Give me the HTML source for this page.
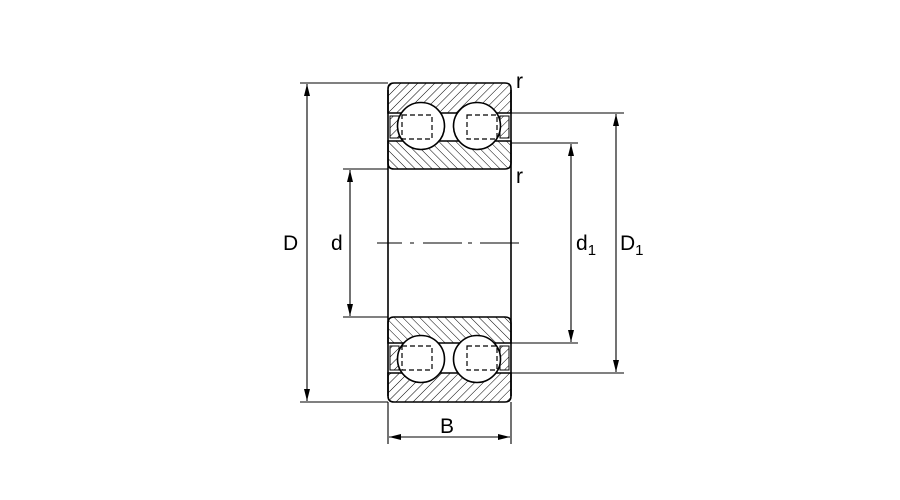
<!DOCTYPE html>
<html><head><meta charset="utf-8"><style>html,body{margin:0;padding:0;background:#fff}svg{display:block}</style></head>
<body>
<svg width="900" height="500" viewBox="0 0 900 500" xmlns="http://www.w3.org/2000/svg" font-family="Liberation Sans, sans-serif">
<defs>
<pattern id="h1" width="6" height="6" patternUnits="userSpaceOnUse" patternTransform="rotate(45)"><line x1="0" y1="0" x2="0" y2="6" stroke="#000" stroke-width="1"/></pattern>
<pattern id="h2" width="6" height="6" patternUnits="userSpaceOnUse" patternTransform="rotate(-45)"><line x1="0" y1="0" x2="0" y2="6" stroke="#000" stroke-width="1"/></pattern>
<marker id="a" viewBox="0 0 12 10" refX="12" refY="5" markerWidth="12" markerHeight="10" orient="auto-start-reverse" markerUnits="userSpaceOnUse"><path d="M0,2 L12,5 L0,8 z" fill="#000"/></marker>
</defs>
<g stroke="#000" fill="none" stroke-width="1.6">
<line x1="388" y1="90" x2="388" y2="396"/>
<line x1="511" y1="90" x2="511" y2="396"/>
<path d="M388,113 V89 Q388,83 394,83 H505 Q511,83 511,89 V113 Z" fill="url(#h1)"/>
<path d="M388,141 H511 V163 Q511,169 505,169 H394 Q388,169 388,163 Z" fill="url(#h2)"/>
<path d="M388,343 H511 V323 Q511,317 505,317 H394 Q388,317 388,323 Z" fill="url(#h2)"/>
<path d="M388,373 H511 V396 Q511,402 505,402 H394 Q388,402 388,396 Z" fill="url(#h1)"/>
<rect x="390" y="116" width="9" height="22" fill="url(#h1)" stroke-width="1"/>
<rect x="500" y="116" width="9" height="22" fill="url(#h1)" stroke-width="1"/>
<rect x="390" y="346" width="9" height="24" fill="url(#h1)" stroke-width="1"/>
<rect x="500" y="346" width="9" height="24" fill="url(#h1)" stroke-width="1"/>
<line x1="388" y1="113" x2="511" y2="113" stroke-width="1"/>
<line x1="388" y1="373" x2="511" y2="373" stroke-width="1"/>
<circle cx="421" cy="126" r="23.5" fill="#fff"/>
<circle cx="477" cy="126" r="23.5" fill="#fff"/>
<circle cx="421" cy="359" r="23.5" fill="#fff"/>
<circle cx="477" cy="359" r="23.5" fill="#fff"/>
<g stroke-dasharray="5,3" stroke-width="1.2">
<rect x="402" y="115" width="30" height="24"/>
<rect x="467" y="115" width="30" height="24"/>
<rect x="402" y="346" width="30" height="24"/>
<rect x="467" y="346" width="30" height="24"/>
</g>
</g>
<g stroke="#000" stroke-width="1.1" fill="none">
<line x1="300" y1="83" x2="388" y2="83"/>
<line x1="300" y1="402" x2="388" y2="402"/>
<line x1="343" y1="169" x2="388" y2="169"/>
<line x1="343" y1="317" x2="388" y2="317"/>
<line x1="511" y1="113" x2="624" y2="113"/>
<line x1="511" y1="373" x2="624" y2="373"/>
<line x1="511" y1="143" x2="578" y2="143"/>
<line x1="511" y1="343" x2="578" y2="343"/>
<line x1="388" y1="402" x2="388" y2="444"/>
<line x1="511" y1="402" x2="511" y2="444"/>
<line x1="307" y1="84" x2="307" y2="401" marker-start="url(#a)" marker-end="url(#a)"/>
<line x1="350" y1="170" x2="350" y2="316" marker-start="url(#a)" marker-end="url(#a)"/>
<line x1="571" y1="144" x2="571" y2="342" marker-start="url(#a)" marker-end="url(#a)"/>
<line x1="616" y1="114" x2="616" y2="372" marker-start="url(#a)" marker-end="url(#a)"/>
<line x1="389" y1="437" x2="510" y2="437" marker-start="url(#a)" marker-end="url(#a)"/>
<path d="M377,243 H402 M410,243 H414 M423,243 H462 M468,243 H472 M480,243 H519"/>
</g>
<g font-size="21" fill="#000">
<text x="283" y="250">D</text>
<text x="331" y="250">d</text>
<text x="576" y="250">d<tspan font-size="15" dy="5">1</tspan></text>
<text x="620" y="250">D<tspan font-size="15" dy="5">1</tspan></text>
<text x="440" y="433">B</text>
<text x="516" y="88">r</text>
<text x="516" y="183">r</text>
</g>
</svg>
</body></html>
